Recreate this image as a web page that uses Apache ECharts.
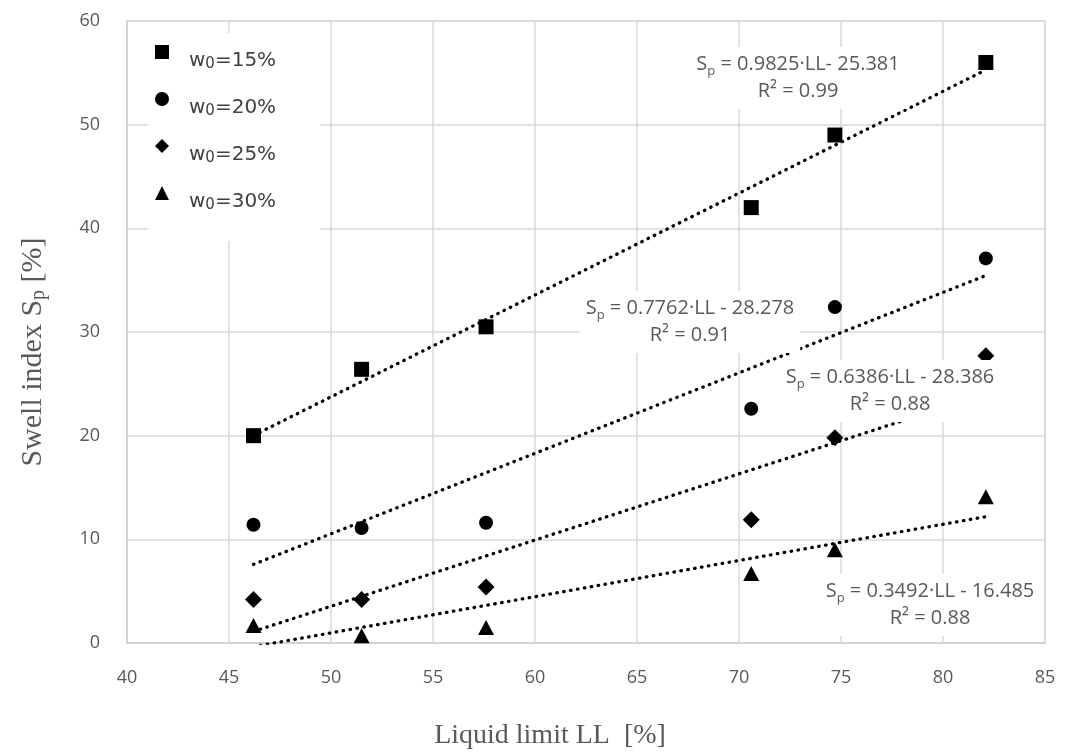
<!DOCTYPE html>
<html><head><meta charset="utf-8">
<script src="https://cdn.jsdelivr.net/npm/echarts@6/dist/echarts.min.js"></script>
<style>html,body{margin:0;padding:0;background:#fff}#c{width:1070px;height:755px}</style>
</head><body><div id="c"></div>
<script>
// ---- data ----
const LL = [46.2, 51.5, 57.6, 70.6, 74.7, 82.1];
const sp15 = [20.0, 26.4, 30.5, 42.0, 49.0, 56.0];
const sp20 = [11.4, 11.1, 11.6, 22.6, 32.4, 37.1];
const sp25 = [4.2, 4.2, 5.4, 11.9, 19.8, 27.7];
const sp30 = [1.7, 0.7, 1.5, 6.7, 9.0, 14.1];
const seriesNames = ['w0=15%', 'w0=20%', 'w0=25%', 'w0=30%'];
const slopes = [0.9825, 0.7762, 0.6386, 0.3492];
const intercepts = [-25.381, -28.278, -28.386, -16.485];
const eqLines = ['= 0.9825·LL- 25.381', '= 0.7762·LL - 28.278', '= 0.6386·LL - 28.386', '= 0.3492·LL - 16.485'];
const r2Labels = ['0.99', '0.91', '0.88', '0.88'];
const xTicks = { min: 40, max: 85, interval: 5 };
const yTicks = { min: 0, max: 60, interval: 10 };

// ---- chart ----
const chart = echarts.init(document.getElementById('c'), null, { renderer: 'canvas' });
const allY = [sp15, sp20, sp25, sp30];
const symbols = ['rect', 'circle', 'diamond', 'triangle'];
const symSizes = [15, 14, [17, 17], [16, 15]];
const xMin = Math.min(...LL), xMax = Math.max(...LL);

const scatterSeries = allY.map((ys, i) => ({
  name: seriesNames[i],
  type: 'scatter',
  symbol: symbols[i],
  symbolSize: symSizes[i],
  itemStyle: { color: '#000', opacity: 1 },
  z: 4,
  data: LL.map((x, j) => [x, ys[j]])
}));
const trendSeries = slopes.map((m, i) => ({
  name: 'trend' + i,
  type: 'line',
  symbol: 'none',
  clip: true,
  silent: true,
  z: 3,
  lineStyle: { color: '#000', width: 3.3, type: [0.5, 6.5], cap: 'round' },
  data: [[xMin, m * xMin + intercepts[i]], [xMax, m * xMax + intercepts[i]]]
}));

const eqPos = [[798, 78], [690, 322], [890, 391], [930, 605]];
const eqFont = 'Open Sans';
const graphics = eqPos.map((p, i) => ({
  type: 'text',
  x: p[0], y: p[1],
  z: 100,
  style: {
    text: '{s|S}{sub|p}{s| ' + eqLines[i] + '}\n{s|R² = ' + r2Labels[i] + '}',
    align: 'center',
    verticalAlign: 'middle',
    backgroundColor: '#fff',
    padding: [4, 6, 4, 6],
    rich: {
      s: { fontSize: 20, fontFamily: eqFont, fill: '#595959', color: '#595959', lineHeight: 27 },
      sub: { fontSize: 13, fontFamily: eqFont, fill: '#595959', color: '#595959', lineHeight: 16, verticalAlign: 'bottom' }
    }
  }
}));

const option = {
  animation: false,
  backgroundColor: '#fff',
  grid: { left: 127, right: 25, top: 21, bottom: 112, show: true, borderColor: '#d9d9d9', borderWidth: 1.5 },
  legend: {
    data: seriesNames,
    orient: 'vertical',
    left: 148, top: 33,
    padding: [12, 44, 28, 7],
    backgroundColor: '#fff',
    itemWidth: 14, itemHeight: 14,
    itemGap: 20,
    selectedMode: false,
    formatter: n => '{a|w}{b|0}{a|' + n.slice(2) + '}',
    textStyle: {
      padding: [18, 0, 0, 15],
      rich: {
        a: { fontSize: 20, fontFamily: 'DejaVu Sans', color: '#404040', lineHeight: 22 },
        b: { fontSize: 15, fontFamily: 'DejaVu Sans', color: '#404040', lineHeight: 16, verticalAlign: 'bottom' }
      }
    }
  },
  xAxis: {
    type: 'value', min: xTicks.min, max: xTicks.max, interval: xTicks.interval,
    name: 'Liquid limit LL  [%]',
    nameLocation: 'middle', nameGap: 79,
    nameTextStyle: { fontFamily: 'Liberation Serif', fontSize: 28, color: '#595959', padding: [0, 72, 0, 0] },
    axisLine: { show: true, lineStyle: { color: '#d0d0d0', width: 1.5 } },
    axisTick: { show: false },
    axisLabel: { color: '#595959', fontSize: 18, fontFamily: 'Open Sans', margin: 26 },
    splitLine: { show: true, lineStyle: { color: '#d9d9d9', width: 1.5 } }
  },
  yAxis: {
    type: 'value', min: yTicks.min, max: yTicks.max, interval: yTicks.interval,
    name: '{t|Swell index S}{sub|p}{t| [%]}',
    nameLocation: 'middle', nameGap: 78,
    nameTextStyle: {
      padding: [0, 40, 0, 0],
      rich: {
        t: { fontFamily: 'Liberation Serif', fontSize: 30, color: '#595959', lineHeight: 32 },
        sub: { fontFamily: 'Liberation Serif', fontSize: 20, color: '#595959', lineHeight: 24, verticalAlign: 'bottom' }
      }
    },
    axisLine: { show: true, lineStyle: { color: '#d0d0d0', width: 1.5 } },
    axisTick: { show: false },
    axisLabel: { color: '#595959', fontSize: 18, fontFamily: 'Open Sans', margin: 27 },
    splitLine: { show: true, lineStyle: { color: '#d9d9d9', width: 1.5 } }
  },
  series: trendSeries.concat(scatterSeries),
  graphic: graphics
};
chart.setOption(option);
</script></body></html>
